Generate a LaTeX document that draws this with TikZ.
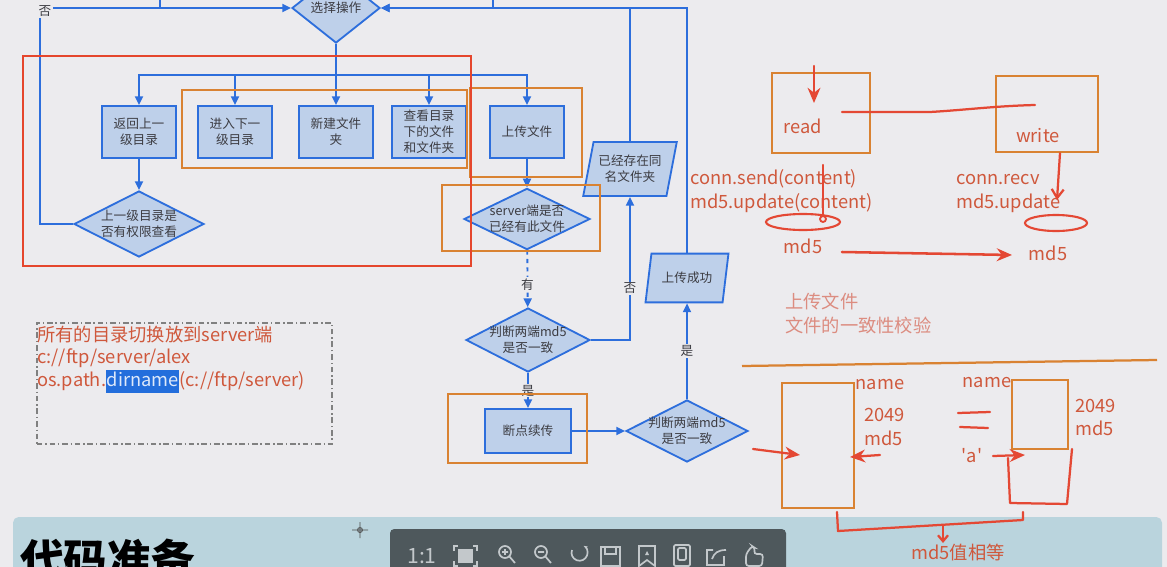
\documentclass[tikz,border=0pt]{standalone}
\usepackage{fontspec}
\setmainfont{Noto Sans CJK SC}
\usepackage{tikz}
\usetikzlibrary{positioning,arrows.meta,shapes.geometric,calc}
\definecolor{screenbg}{RGB}{236,235,238}
\definecolor{bandblue}{RGB}{186,212,221}
\definecolor{flowblue}{RGB}{45,110,220}
\definecolor{nodefill}{RGB}{190,208,234}
\definecolor{textgrey}{RGB}{60,60,66}
\definecolor{frameorange}{RGB}{217,130,50}
\definecolor{framered}{RGB}{229,70,45}
\definecolor{inkred}{RGB}{228,72,52}
\definecolor{notered}{RGB}{207,88,60}
\definecolor{palered}{RGB}{220,140,128}
\definecolor{selblue}{RGB}{35,110,220}
\definecolor{bargrey}{RGB}{78,88,92}
\definecolor{icongrey}{RGB}{195,200,203}
\setlength{\fboxsep}{0.5pt}

\begin{document}
\begin{tikzpicture}[x=0.025cm,y=-0.025cm,
  font=\fontsize{9}{11.5}\selectfont,
  proc/.style={rectangle,draw=flowblue,fill=nodefill,line width=1.3pt,text=textgrey,align=center,inner sep=1pt,minimum width=1.83cm,minimum height=1.3cm},
  decision/.style={diamond,aspect=2,draw=flowblue,fill=nodefill,line width=1.3pt,text=textgrey,align=center,inner sep=-8pt},
  io/.style={trapezium,trapezium left angle=73,trapezium right angle=107,trapezium stretches=true,draw=flowblue,fill=nodefill,line width=1.3pt,text=textgrey,align=center,inner sep=1pt},
  flow/.style={-{Triangle[length=0.22cm,width=0.2cm]},flowblue,line width=1.3pt},
  plain/.style={flowblue,line width=1.3pt},
  flowlbl/.style={fill=screenbg,text=textgrey,inner sep=1pt},
  ofrm/.style={draw=frameorange,line width=1.7pt},
  rfrm/.style={draw=framered,line width=1.7pt},
  ink/.style={inkred,line width=1.6pt,line cap=round,line join=round},
  inkarr/.style={ink,-{Stealth[length=0.38cm,width=0.32cm]}},
  note/.style={text=notered,font=\fontsize{13}{17}\selectfont,align=left,inner sep=0pt},
  icon/.style={icongrey,line width=1.2pt},
]
% screen and page background
\fill[screenbg] (0,0) rectangle (1167,567);
\useasboundingbox (0,0) rectangle (1167,567);
\fill[bandblue,rounded corners=4pt] (13,517) rectangle (1162,600);

% Flowchart: choose an operation
\node[decision,minimum width=2.2cm,minimum height=1.75cm] (select) at (336,8) {选择操作};
\node[proc] (back)   at (139,132) {返回上一\\级目录};
\node[proc] (enter)  at (235,132) {进入下一\\级目录};
\node[proc] (newdir) at (336,132) {新建文件\\夹};
\node[proc] (list)   at (429,132) {查看目录\\下的文件\\和文件夹};
\node[proc] (upload) at (527,132) {上传文件};
\node[decision,minimum width=3.25cm,minimum height=1.65cm] (perm) at (139,224) {上一级目录是\\否有权限查看};
% Upload branch
\node[decision,minimum width=3.15cm,minimum height=1.53cm] (exists) at (527,219) {server端是否\\已经有此文件};
\node[decision,minimum width=3.1cm,minimum height=1.6cm] (same) at (528,340) {判断两端md5\\是否一致};
\node[proc,minimum width=2.15cm,minimum height=1.1cm] (resume) at (528,431) {断点续传};
\node[decision,minimum width=3.05cm,minimum height=1.55cm] (check) at (687,431) {判断两端md5\\是否一致};
\node[io,minimum width=2.35cm,minimum height=1.35cm] (dupname) at (630,169) {已经存在同\\名文件夹};
\node[io,minimum width=2.08cm,minimum height=1.22cm] (done) at (687,278) {上传成功};

% branching bus under the decision
\coordinate (bus) at (336,75);
\draw[flow] (select) -- (newdir);
\draw[flow] (bus) -| (back);
\draw[flow] (bus) -| (enter);
\draw[flow] (bus) -| (list);
\draw[flow] (bus) -| (upload);
\draw[flow] (back) -- (perm);

% back to the decision (left side)
\coordinate (nocorner) at (40,8);
\coordinate (offA) at (160,-5);
\coordinate (offB) at (493,-5);
\draw[flow] (perm.west) -| (nocorner) -- (select.west);
\node[flowlbl] (nolbl) at (45,11) {否};
\draw[plain] (offA) -- (offA |- select);
\draw[plain] (offB) -- (offB |- select);

% upload path
\draw[flow] (upload) -- (exists);
\draw[flow,dashed] (exists) -- node[flowlbl,pos=0.6]{有} (same);
\draw[flow] (same.east) -| node[flowlbl,pos=0.68]{否} (dupname.south);
\draw[flow] (dupname.north) |- (select.east);
\draw[flow] (same) -- node[flowlbl]{是} (resume);
\draw[flow] (resume) -- (check);
\draw[flow] (check) -- node[flowlbl]{是} (done);
\draw[flow] (done.north) |- (select.east);

% hand-drawn frames
\draw[ofrm] (182,90) rectangle (467,168);
\draw[ofrm] (470,88) rectangle (582,177);
\draw[ofrm] (442,185) rectangle (600,251);
\draw[ofrm] (448,394) rectangle (587,463);
\draw[rfrm] (23,56) rectangle (471,266);

% note box on the left
\node[draw=gray,line width=1.1pt,dash pattern=on 4pt off 2pt on 1pt off 2pt,minimum width=7.38cm,minimum height=3.03cm] (dirbox) at (184.5,383.5) {};
\node[note,anchor=base west,font=\fontsize{13}{16}\selectfont] (dirtxt) at (37,386)
  {所有的目录切换放到server端\\c://ftp/server/alex\\os.path.\colorbox{selblue}{\strut\textcolor{white!85!selblue}{dirname}}(c://ftp/server)};

% consistency check: read / write
\node[ofrm,minimum width=2.45cm,minimum height=2cm] (readbox) at (821,113) {};
\node[ofrm,minimum width=2.55cm,minimum height=1.9cm] (writebox) at (1047,114) {};
\node[note] (readtxt) at (803,126) {read};
\node[note] (writetxt) at (1038,136) {write};
\coordinate (readin) at (814,66);
\coordinate (readhit) at (814,103);
\draw[inkarr] (readin) -- (readhit);
\draw[ink] (842,112) -- (930,112) .. controls (965,110) and (995,106) .. (1035,105);
\node[note,anchor=base west] (sendtxt) at (690,208) {conn.send(content)\\md5.update(content)};
\node[note,anchor=base west] (recvtxt) at (956,208) {conn.recv\\md5.update};
\node[ellipse,draw=inkred,line width=1.5pt,minimum width=1.85cm,minimum height=0.4cm] (hashA) at (803,222) {};
\node[ellipse,draw=inkred,line width=1.5pt,minimum width=1.55cm,minimum height=0.4cm] (hashB) at (1056,223) {};
\draw[ink] (823,165) -- (823,216);
\draw[inkred,line width=1.3pt] (823,219) circle[radius=3];
\draw[ink,-{Straight Barb[length=0.22cm,width=0.3cm]}] (writebox.south -| 1060,0) -- (1057,200);
\node[note] (md5a) at (803,246) {md5};
\node[note] (md5b) at (1048,253) {md5};
\draw[inkarr,line width=1.8pt] (842,252) -- (1012,255);
\node[note,text=palered,anchor=base west] (topic) at (785,332) {上传文件\\文件的一致性校验};

% divider
\draw[frameorange,line width=1.6pt] (742,366) -- (1157,360);

% resume upload sketch
\node[ofrm,minimum width=1.8cm,minimum height=3.13cm] (fileA) at (818,445.5) {};
\node[ofrm,minimum width=1.4cm,minimum height=1.73cm] (fileB) at (1040,414.5) {};
\node[note] (nameA) at (880,385) {name};
\node[note] (nameB) at (987,383) {name};
\node[note,anchor=base west,font=\fontsize{13}{16.5}\selectfont] (infoA) at (864,445) {2049\\md5};
\node[note,anchor=base west,font=\fontsize{13}{16}\selectfont] (infoB) at (1075,435) {2049\\md5};
\node[note] (chara) at (972,456) {\textquotesingle a\textquotesingle};
\draw[inkarr] (753,449) -- (800,455);
\draw[inkarr] (880,455) -- (850,457);
\draw[ink] (958,413) -- (990,412);
\draw[ink] (960,427) -- (988,428);
\draw[inkarr] (993,456) -- (1025,455);
\draw[ink] (1008,458) -- (1010,503) -- (1067,504) -- (1072,449);
\draw[ink] (837,512) -- (838,531) -- (1023,520) -- (1023,512);
\draw[ink,-{Straight Barb[length=0.15cm,width=0.25cm]}] (943,526) -- (943,543);
\node[note] (equal) at (958,553) {md5值相等};

% slide title strip
\node[anchor=base west,inner sep=0pt,font=\fontsize{31}{31}\selectfont\bfseries] (title) at (20,576) {代码准备};
\draw[black!70,line width=0.6pt] (360,530) circle[radius=2.5] (352,530) -- (368,530) (360,522) -- (360,538);

% viewer toolbar
\fill[bargrey,rounded corners=3pt] (390,529) rectangle (786,590);
\node[text=icongrey,font=\fontsize{15}{15}\selectfont] (onetoone) at (422,556) {1:1};
\fill[icongrey] (458,549) rectangle (473,563);
\draw[icon] (454,551) |- (458,546) (473,546) -| (477,551) (454,561) |- (458,566) (473,566) -| (477,561);
\foreach \cx/\sgn in {505/1,541/0}{
  \draw[icon] (\cx,552) circle[radius=6] (\cx+4,556) -- (\cx+10,563) (\cx-3,552) -- (\cx+3,552);
  \ifnum\sgn=1 \draw[icon] (\cx,549) -- (\cx,555); \fi
}
\draw[icon,-{Stealth[length=3pt]}] (572,550) arc[start angle=200,end angle=-60,radius=8];
\draw[icon] (601,547) rectangle (620,566) (605,547) rectangle (616,554);
\draw[icon] (639,546) -- (639,566) -- (647,560) -- (655,566) -- (655,546) -- cycle;
\fill[icongrey] (647,551) -- (649,555) -- (645,555) -- cycle;
\draw[icon,rounded corners=1pt] (674,545) rectangle (690,566) (678,548) rectangle (686,560);
\draw[icon] (724,556) -- (724,565) -- (707,565) -- (707,550) -- (713,550) (712,559) .. controls (714,553) and (718,550) .. (726,550);
\draw[icon,rounded corners=2pt] (746,566) -- (746,554) -- (752,546) -- (755,548) -- (754,554) -- (763,554) -- (762,566) -- cycle;
\end{tikzpicture}
\end{document}
